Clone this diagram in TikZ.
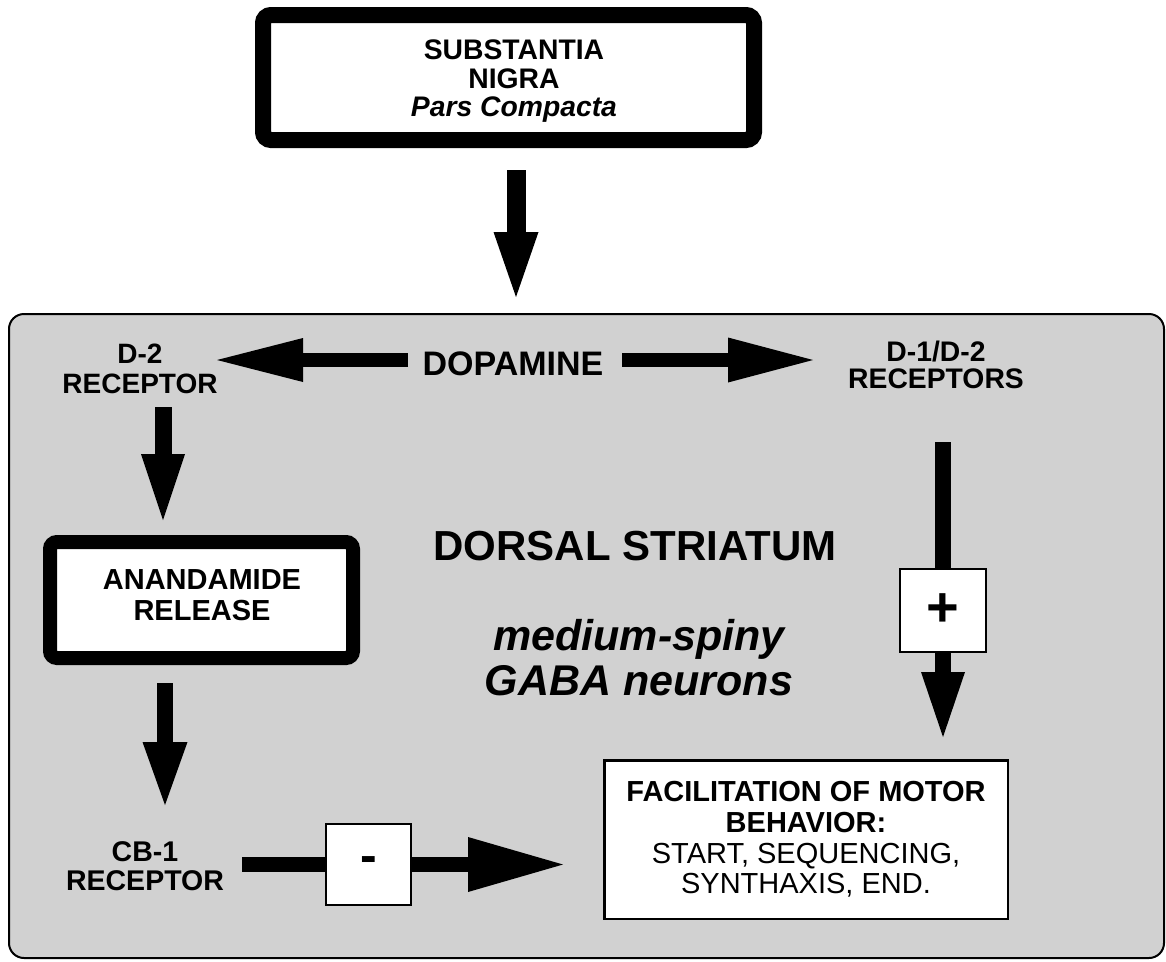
\documentclass[tikz,border=0pt]{standalone}
\usepackage{fontspec}
\setmainfont{Liberation Sans}
\usetikzlibrary{arrows.meta}
\definecolor{panelgray}{gray}{0.82}
\tikzset{
  thickbox/.style={draw=black, line width=16pt, fill=white, rounded corners=8pt, inner sep=0pt},
  thinbox/.style={draw=black, line width=2.5pt, fill=white, inner sep=0pt},
  signbox/.style={draw=black, line width=2pt, fill=white, inner sep=0pt},
  lbl/.style={inner sep=0pt, align=center, text=black},
  fat/.style n args={3}{draw=black, line width=#1, -{Triangle[length=#2, width=#3, line width=0pt]}},
  plain/.style={draw=black, line width=#1},
}
\begin{document}
\begin{tikzpicture}[x=1pt,y=-1pt]
\useasboundingbox (0,0) rectangle (1166,961);

% top box
\node[thickbox, minimum width=491pt, minimum height=125pt] (snbox) at (508.5,77.5) {};
\node[lbl, anchor=north, font=\fontsize{28.3}{28.5}\selectfont\bfseries] (sntext) at (514,40)
  {SUBSTANTIA\\NIGRA\\\textit{Pars Compacta}};

% panel
\draw[line width=2pt, fill=panelgray, rounded corners=15pt] (9,314) rectangle (1164,958);

% top arrow
\coordinate (a0s) at (516,170);
\coordinate (a0e) at (516,297);
\draw[fat={19pt}{65pt}{45pt}] (a0s) -- (a0e);

% dopamine
\node[lbl, anchor=base, font=\fontsize{34}{34}\selectfont\bfseries] (dop) at (513,375) {DOPAMINE};
\node[lbl, anchor=north, font=\fontsize{28}{30}\selectfont\bfseries] (d2) at (140,343.5) {D-2\\RECEPTOR};
\node[lbl, anchor=north, font=\fontsize{28.3}{26.5}\selectfont\bfseries] (d12) at (936,341) {D-1/D-2\\RECEPTORS};
\coordinate (dl) at (408,360);
\coordinate (d2tip) at (217,360);
\draw[fat={14pt}{86pt}{44pt}] (dl) -- (d2tip);
\coordinate (dr) at (622,360);
\coordinate (d12tip) at (813,360);
\draw[fat={14pt}{85pt}{45pt}] (dr) -- (d12tip);

% centre texts
\node[lbl, anchor=base, font=\fontsize{42}{42}\selectfont\bfseries] (ds) at (635,560) {DORSAL STRIATUM};
\node[lbl, anchor=north, font=\fontsize{43}{45}\selectfont\bfseries\itshape] (msn) at (639,619) {medium-spiny\\GABA neurons};

% left column
\coordinate (d2s) at (163,407);
\coordinate (d2e) at (163,520);
\draw[fat={17pt}{66pt}{44pt}] (d2s) -- (d2e);
\node[thickbox, line width=14pt, rounded corners=7pt, minimum width=303pt, minimum height=116pt] (anbox) at (201.5,600) {};
\node[lbl, anchor=north, font=\fontsize{29}{31}\selectfont\bfseries] (antext) at (202,569) {ANANDAMIDE\\RELEASE};
\coordinate (ans) at (165,683);
\coordinate (ane) at (165,805);
\draw[fat={16pt}{63pt}{45pt}] (ans) -- (ane);
\node[lbl, anchor=north, font=\fontsize{28.5}{29}\selectfont\bfseries] (cb1) at (145,841) {CB-1\\RECEPTOR};

% minus path
\node[signbox, minimum width=85pt, minimum height=81pt, font=\fontsize{50}{50}\selectfont\bfseries] (minus) at (368.5,864.5) {-};
\coordinate (cbs) at (242,864.5);
\coordinate (cbtip) at (563,864.5);
\draw[plain=15pt] (cbs) -- (minus.west);
\draw[fat={15pt}{95pt}{55pt}] (minus.east) -- (cbtip);

% right column
\node[signbox, minimum width=86pt, minimum height=83pt, font=\fontsize{56}{56}\selectfont\bfseries] (plus) at (943,610.5) {+};
\coordinate (rvs) at (943,442);
\coordinate (rvtip) at (943,737);
\draw[plain=16pt] (rvs) -- (plus.north);
\draw[fat={16pt}{65pt}{44pt}] (plus.south) -- (rvtip);

% facilitation box
\node[thinbox, minimum width=403.5pt, minimum height=158.5pt, align=center,
      font=\fontsize{29}{30.7}\selectfont] (fac) at (806,839.5)
  {\bfseries FACILITATION OF MOTOR\\\bfseries BEHAVIOR:\\START, SEQUENCING,\\SYNTHAXIS, END.};
\end{tikzpicture}
\end{document}
